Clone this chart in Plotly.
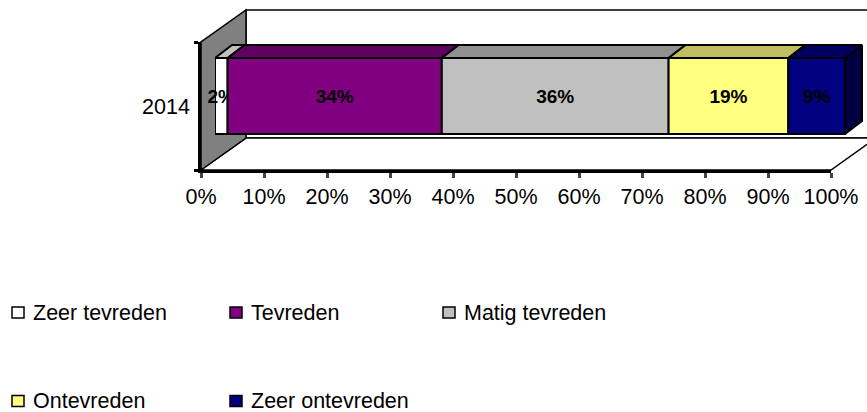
import plotly.graph_objects as go

YEARS = ["2014"]
SERIES = ["Zeer tevreden", "Tevreden", "Matig tevreden", "Ontevreden", "Zeer ontevreden"]
VALUES = [2, 34, 36, 19, 9]
TICKS = [0, 10, 20, 30, 40, 50, 60, 70, 80, 90, 100]
FRONT = ["#FFFFFF", "#800080", "#C0C0C0", "#FFFF80", "#000080"]
TOP = ["#C0C0C0", "#600060", "#909090", "#BFBF60", "#000060"]
SIDE = "#000040"

W, H = 867, 412
L, R, T, B = 201, 831, 42, 170
FONT = "Liberation Sans"
PAPER_W = W - L


def px(x):
    return (x - L) / PAPER_W


def py(y):
    return (B - y) / (B - T)


def pxd(d):  # horizontal pixels to axis units
    return d * 100 / (R - L)


def pyd(d):  # vertical pixels to axis units
    return d / (B - T)


shift = 14
bar_h = pyd(76)
bar_bottom = pyd(170 - 134) - 0.5
bar_top = bar_bottom + bar_h
dx, dy = pxd(17), pyd(13)

fig = go.Figure()
base = 0
for name, v, c in zip(SERIES, VALUES, FRONT):
    fig.add_bar(
        y=[0], x=[v], base=[base], name=name, orientation="h", xaxis="x2", yaxis="y",
        width=[bar_h], offset=bar_bottom,
        marker=dict(color=c, line=dict(color="black", width=2)),
        text=[f"{v}%"], textposition="inside", insidetextanchor="middle",
        textangle=0, constraintext="none", cliponaxis=False,
        textfont=dict(family=FONT, size=19, color="black", weight="bold"),
        showlegend=False,
    )
    base += v

base = 0
for v, c in zip(VALUES, TOP):
    fig.add_scatter(
        x=[base, base + v, base + v + dx, base + dx, base],
        y=[bar_top, bar_top, bar_top + dy, bar_top + dy, bar_top],
        xaxis="x2", yaxis="y",
        mode="lines", fill="toself", fillcolor=c,
        line=dict(color="black", width=2), cliponaxis=False,
        showlegend=False, hoverinfo="skip",
    )
    base += v
fig.add_scatter(
    x=[base, base + dx, base + dx, base, base],
    y=[bar_top, bar_top + dy, bar_bottom + dy, bar_bottom, bar_top],
    xaxis="x2", yaxis="y",
    mode="lines", fill="toself", fillcolor=SIDE,
    line=dict(color="black", width=2), cliponaxis=False,
    showlegend=False, hoverinfo="skip",
)
# an empty trace keeps the main value axis on the page
fig.add_scatter(x=[None], y=[None], xaxis="x", yaxis="y", showlegend=False, hoverinfo="skip")


def poly(pts, fill, width=2):
    d = "M" + " L".join(f"{px(x):.5f},{py(y):.5f}" for x, y in pts) + " Z"
    return dict(type="path", path=d, xref="paper", yref="paper", layer="below",
                fillcolor=fill, line=dict(color="black", width=width))


shapes = [
    poly([(246, 10), (876, 10), (876, 138), (246, 138)], "white", 1.5),
    poly([(201, 170), (246, 138), (876, 138), (831, 170)], "white", 1.5),
    poly([(201, 170), (246, 138), (246, 10), (201, 42)], "#808080", 1.5),
]

LEG_POS = [(12, 312.5), (230, 312.5), (443, 312.5), (12, 401), (230, 401)]
annotations = []
for name, c, (x, y) in zip(SERIES, FRONT, LEG_POS):
    shapes.append(dict(type="rect", xref="paper", yref="paper",
                       x0=px(x), x1=px(x + 12), y0=py(y + 5.5), y1=py(y - 5.5),
                       fillcolor=c, line=dict(color="black", width=1.5)))
    annotations.append(dict(text=name, xref="paper", yref="paper", x=px(x + 19), y=py(y),
                            xanchor="left", yanchor="middle", showarrow=False,
                            font=dict(family=FONT, size=21.5, color="black")))

fig.update_layout(
    width=W, height=H, barmode="overlay", showlegend=False,
    paper_bgcolor="white", plot_bgcolor="rgba(0,0,0,0)",
    margin=dict(l=L, r=0, t=T, b=H - B, autoexpand=False),
    shapes=shapes, annotations=annotations,
    font=dict(family=FONT, size=21.5, color="black"),
    xaxis=dict(domain=[0, px(R)], range=[0, 100], tickvals=TICKS,
               ticktext=[f"{t}%" for t in TICKS], anchor="y",
               ticks="outside", ticklen=5, tickwidth=2.5, showgrid=False, zeroline=False,
               showline=True, linecolor="black", linewidth=3, fixedrange=True),
    xaxis2=dict(domain=[px(L + shift), 1], range=[0, pxd(W - L - shift)], anchor="y",
                visible=False, fixedrange=True),
    yaxis=dict(range=[-0.5, 0.5], tickvals=[0], ticktext=YEARS, ticks="outside", ticklen=4,
               tickcolor="rgba(0,0,0,0)", showgrid=False, zeroline=False, anchor="x",
               showline=True, linecolor="black", linewidth=2.5, fixedrange=True,
               minor=dict(tickvals=[-0.5, 0.5], ticks="outside", ticklen=4, tickwidth=2.5,
                          tickcolor="black", showgrid=False)),
)
fig.write_html("out.html", config=dict(displayModeBar=False),
               post_script="document.body.style.margin='0';document.body.style.overflow='hidden';")
